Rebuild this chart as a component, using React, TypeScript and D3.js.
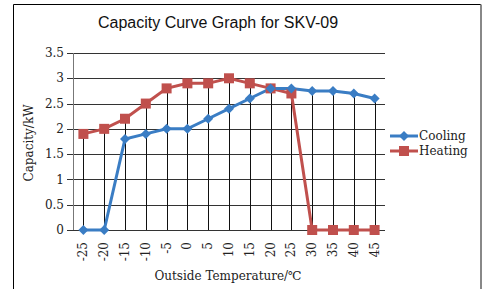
import * as d3 from 'd3';

const temps = ['-25', '-20', '-15', '-10', '-5', '0', '5', '10', '15', '20', '25', '30', '35', '40', '45'];
const cooling = [0, 0, 1.8, 1.9, 2.0, 2.0, 2.2, 2.4, 2.6, 2.8, 2.8, 2.75, 2.75, 2.7, 2.6];
const heating = [1.9, 2.0, 2.2, 2.5, 2.8, 2.9, 2.9, 3.0, 2.9, 2.8, 2.7, 0, 0, 0, 0];
const yTicks = [0, 0.5, 1, 1.5, 2, 2.5, 3, 3.5];

const W = 487;
const H = 289;
const BLUE = '#3a7dc4';
const RED = '#c0504d';
const SERIF = '"DejaVu Serif", "Liberation Serif", serif';

export default function App() {
  // 座標軸
  const x = d3.scalePoint<string>().domain(temps).range([73, 385]).padding(0.5);
  const y = d3.scaleLinear().domain([0, 3.5]).range([230, 53]);

  const line = d3.line<number>()
    .x((_, i) => x(temps[i]) as number)
    .y((d) => y(d));

  const diamond = (cx: number, cy: number, r: number) =>
    `M${cx},${cy - r}L${cx + r},${cy}L${cx},${cy + r}L${cx - r},${cy}Z`;

  return (
    <svg width={W} height={H} style={{ position: 'absolute', left: 0, top: 0, background: '#fff' }}>
      {/* 外框 */}
      <line x1={13.5} y1={4.5} x2={481} y2={4.5} stroke="#000" />
      <line x1={13.5} y1={4.5} x2={13.5} y2={H} stroke="#000" />
      <line x1={481} y1={4.5} x2={481} y2={H} stroke="#888" strokeWidth={2} />

      <text x={218} y={28} textAnchor="middle" fontFamily='"Liberation Sans", Arial, sans-serif' fontSize={16} fill="#111">
        Capacity Curve Graph for SKV-09
      </text>

      {/* 水平格線與 Y 軸刻度 */}
      {yTicks.map((t) => (
        <g key={t}>
          <line x1={67} x2={385} y1={Math.round(y(t)) + 0.5} y2={Math.round(y(t)) + 0.5} stroke="#333" strokeWidth={1} />
          <text x={64} y={y(t)} dy="0.35em" textAnchor="end" fontFamily={SERIF} fontSize={12} fill="#222">
            {String(t)}
          </text>
        </g>
      ))}
      <line x1={73.5} x2={73.5} y1={53} y2={230} stroke="#777" />

      {/* 垂直落線 */}
      {temps.map((t, i) => (
        <line key={t} x1={Math.round(x(t) as number) + 0.5} x2={Math.round(x(t) as number) + 0.5}
          y1={y(Math.max(cooling[i], heating[i]))} y2={y(0)} stroke="#111" strokeWidth={1} />
      ))}

      {/* X 軸標籤 */}
      {temps.map((t) => (
        <text key={t} transform={`translate(${(x(t) as number) + 4},242) rotate(-90)`} textAnchor="end"
          fontFamily={SERIF} fontSize={12} fill="#222">
          {t}
        </text>
      ))}

      <path d={line(heating) ?? ''} fill="none" stroke={RED} strokeWidth={3} />
      <path d={line(cooling) ?? ''} fill="none" stroke={BLUE} strokeWidth={3} />
      {heating.map((v, i) => (
        <rect key={i} x={(x(temps[i]) as number) - 5} y={y(v) - 5} width={10} height={10} fill={RED} />
      ))}
      {cooling.map((v, i) => (
        <path key={i} d={diamond(x(temps[i]) as number, y(v), 5)} fill={BLUE} />
      ))}

      <text transform="translate(33,143) rotate(-90)" textAnchor="middle" fontFamily={SERIF} fontSize={12} fill="#222">
        Capacity/kW
      </text>
      <text x={228} y={280} textAnchor="middle" fontFamily={SERIF} fontSize={12} fill="#222">
        Outside Temperature/℃
      </text>

      {/* 圖例 */}
      <line x1={390} x2={418} y1={136} y2={136} stroke={BLUE} strokeWidth={3} />
      <path d={diamond(404, 136, 5)} fill={BLUE} />
      <text x={419} y={136} dy="0.35em" fontFamily={SERIF} fontSize={12} fill="#222">Cooling</text>
      <line x1={390} x2={418} y1={151} y2={151} stroke={RED} strokeWidth={3} />
      <rect x={399} y={146} width={10} height={10} fill={RED} />
      <text x={419} y={151} dy="0.35em" fontFamily={SERIF} fontSize={12} fill="#222">Heating</text>
    </svg>
  );
}
